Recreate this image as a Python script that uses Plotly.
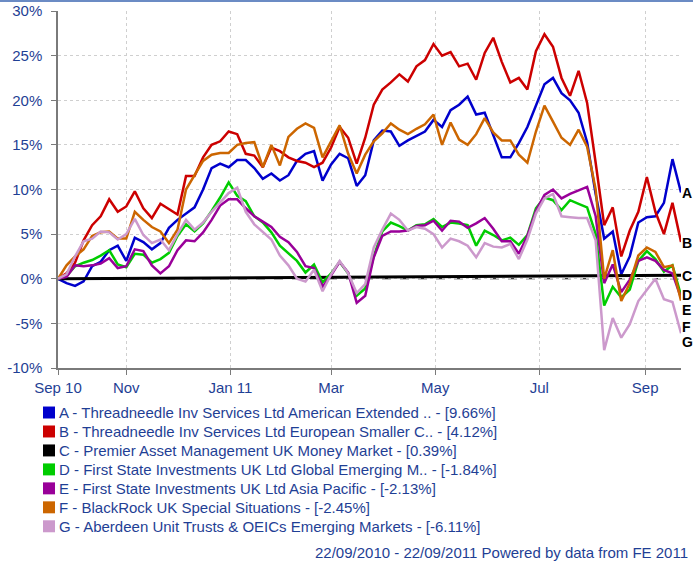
import pandas as pd
import plotly.graph_objects as go

# sampling grid: every 5 days, 22/09/2010 - 22/09/2011
dates = pd.date_range("2010-09-22", periods=74, freq="5D")

fund_a = [0.0, -0.5, -0.8, -0.3, 1.4, 1.9, 3.2, 3.7, 2.0, 4.6,
          4.1, 3.3, 4.0, 5.7, 6.6, 7.3, 8.0, 10.0, 12.4, 12.9,
          12.5, 13.3, 13.3, 12.4, 11.2, 11.8, 11.0, 11.6, 13.2, 14.0,
          14.3, 11.0, 12.8, 14.0, 13.5, 10.4, 11.6, 15.5, 16.6, 16.5,
          14.9, 15.5, 16.0, 16.5, 17.8, 17.0, 18.9, 19.5, 20.4, 18.4,
          18.6, 16.2, 13.6, 13.6, 15.2, 17.0, 19.5, 21.8, 22.5, 20.8,
          20.0, 18.6, 15.3, 9.5, 4.5, 5.3, 0.5, 2.5, 6.3, 6.9,
          7.0, 8.5, 13.4, 9.66]
fund_b = [0.0, 0.6, 1.8, 4.3, 6.0, 7.0, 8.9, 7.5, 8.1, 9.8,
          7.9, 6.8, 8.4, 7.8, 7.2, 11.5, 11.5, 13.6, 15.0, 15.4,
          16.5, 16.2, 14.0, 13.8, 12.5, 14.7, 14.3, 13.6, 13.2, 13.0,
          12.5, 13.0, 14.7, 17.0, 15.8, 12.9, 15.8, 19.5, 21.2, 22.0,
          22.9, 22.1, 23.8, 24.5, 26.3, 25.0, 25.4, 23.8, 24.1, 22.3,
          25.3, 27.0, 24.3, 22.0, 22.5, 21.2, 25.5, 27.4, 26.0, 22.5,
          20.5, 23.3, 19.7, 13.0, 6.0, 8.0, 2.5, 5.4, 7.5, 11.4,
          7.5, 5.0, 8.5, 4.12]
fund_d = [0.0, 0.3, 1.4, 1.8, 2.1, 2.6, 3.2, 1.6, 1.3, 2.8,
          2.7, 1.8, 2.2, 2.9, 4.8, 6.1, 5.3, 6.2, 7.6, 9.1,
          10.8, 9.3, 8.7, 7.0, 6.3, 5.2, 3.7, 2.9, 2.0, 0.7,
          1.6, -0.4, 0.6, 1.9, 0.6, -1.9, -1.1, 2.5, 5.3, 6.3,
          5.9, 5.4, 6.0, 6.1, 6.7, 5.8, 6.3, 6.2, 6.0, 3.7,
          5.4, 4.9, 4.3, 4.6, 3.8, 4.9, 7.9, 9.1, 8.8, 7.7,
          8.8, 8.4, 8.0, 5.0, -3.0, -0.9, -2.1, -1.2, 2.0, 3.1,
          2.2, 0.8, 1.5, -1.84]
fund_e = [0.0, 0.2, 1.5, 1.4, 1.5, 1.7, 2.3, 1.2, 1.4, 3.3,
          3.1, 1.5, 0.6, 1.4, 3.2, 4.3, 4.2, 5.2, 6.6, 8.2,
          8.9, 8.9, 7.9, 7.0, 6.4, 5.8, 4.7, 4.1, 3.0, 1.4,
          1.2, -0.9, 0.4, 1.9, 0.7, -2.7, -1.9, 2.4, 4.8, 5.3,
          5.3, 5.4, 5.9, 6.0, 6.5, 5.4, 6.5, 6.4, 5.7, 6.2,
          6.8, 5.6, 4.2, 4.2, 2.8, 4.8, 7.6, 9.4, 10.0, 9.0,
          9.5, 9.9, 10.3, 7.0, -0.5, 1.6, -1.5, -0.1, 2.0, 2.4,
          2.0, 1.0, 0.6, -2.13]
fund_f = [0.0, 1.5, 2.5, 3.3, 4.8, 5.2, 5.3, 4.5, 4.5, 7.5,
          6.6, 5.8, 5.3, 4.0, 5.5, 10.0, 11.6, 13.2, 13.9, 14.1,
          14.1, 15.0, 15.2, 15.3, 12.5, 15.0, 12.7, 15.9, 16.8, 17.4,
          16.9, 13.6, 15.4, 17.2, 14.0, 11.8, 13.9, 15.4, 16.3, 17.4,
          16.7, 16.2, 16.8, 17.3, 18.4, 15.0, 17.5, 15.6, 15.0, 16.2,
          18.0, 16.4, 15.5, 15.5, 13.9, 13.0, 16.5, 19.4, 17.6, 15.8,
          15.0, 16.7, 14.8, 10.0, 0.0, 3.2, -2.5, -0.5, 2.6, 3.5,
          3.0, 1.3, 1.5, -2.45]
fund_g = [0.0, 0.5, 2.5, 4.2, 4.5, 5.3, 5.2, 4.4, 5.0, 6.7,
          4.9, 4.0, 4.4, 3.2, 5.0, 6.6, 5.5, 6.3, 7.5, 8.6,
          9.6, 10.2, 7.5, 6.1, 5.3, 4.4, 2.6, 1.5, 0.0, -0.3,
          1.0, -1.4, 0.5, 2.0, 0.6, -1.6, -0.6, 3.5, 5.5, 7.3,
          6.6, 5.4, 5.8, 5.6, 5.0, 3.5, 4.5, 4.2, 3.7, 2.4,
          4.0, 3.6, 3.5, 3.9, 2.2, 4.4, 7.3, 9.0, 9.5, 7.0,
          6.9, 6.8, 6.8, 4.3, -8.0, -4.4, -6.6, -5.1, -2.5, -1.2,
          0.0, -2.3, -2.6, -6.11]

# money market fund moves very little, read at a few points
c_dates = ["2010-09-22", "2010-11-15", "2011-01-10", "2011-03-07",
           "2011-05-02", "2011-06-27", "2011-08-22", "2011-09-22"]
fund_c = [0.0, 0.06, 0.14, 0.2, 0.27, 0.33, 0.37, 0.39]

letters = ["A", "B", "C", "D", "E", "F", "G"]
names = [
    "Threadneedle Inv Services Ltd American Extended ..",
    "Threadneedle Inv Services Ltd European Smaller C..",
    "Premier Asset Management UK Money Market",
    "First State Investments UK Ltd Global Emerging M..",
    "First State Investments UK Ltd Asia Pacific",
    "BlackRock UK Special Situations",
    "Aberdeen Unit Trusts & OEICs Emerging Markets",
]
final_returns = [9.66, 4.12, 0.39, -1.84, -2.13, -2.45, -6.11]
colors = ["#0000cc", "#cc0000", "#000000", "#00cc00", "#990099", "#cc6600", "#cc99cc"]

tick_dates = ["2010-09-22", "2010-11-01", "2011-01-01", "2011-03-01",
              "2011-05-01", "2011-07-01", "2011-09-01"]
tick_text = ["Sep 10", "Nov", "Jan 11", "Mar", "May", "Jul", "Sep"]
y_ticks = [-10, -5, 0, 5, 10, 15, 20, 25, 30]

TEXT = "#1f3f95"
FONT = "Liberation Sans, Arial, sans-serif"

series = {
    "A": (dates, fund_a), "B": (dates, fund_b), "C": (c_dates, fund_c),
    "D": (dates, fund_d), "E": (dates, fund_e), "F": (dates, fund_f),
    "G": (dates, fund_g),
}

fig = go.Figure()
for letter, name, color in zip(letters, names, colors):
    x, y = series[letter]
    fig.add_trace(go.Scatter(
        x=x, y=y, mode="lines", name=letter,
        line=dict(color=color, width=3 if letter == "C" else 2.5),
        showlegend=False,
    ))

# dashed zero reference
fig.add_shape(type="line", xref="paper", x0=0, x1=1, yref="y", y0=0, y1=0,
              line=dict(color="black", width=1, dash="dash"), layer="below")

# end-of-line letters (spread out so they do not overlap)
label_y = [9.6, 4.0, 0.35, -1.8, -3.55, -5.35, -7.1]
for letter, ly in zip(letters, label_y):
    fig.add_annotation(x=1, xref="paper", y=ly, yref="y", text=f"<b>{letter}</b>",
                       showarrow=False, xanchor="left", xshift=-1,
                       font=dict(size=14, color="black", family=FONT))

# legend under the chart, built by hand
L, T, W, H = 58, 10.7, 623, 357.7
def px(xp):
    return (xp - L) / W
def py(yp):
    return (T + H - yp) / H

row_y = 413
for letter, name, ret, color in zip(letters, names, final_returns, colors):
    fig.add_shape(type="rect", xref="paper", yref="paper",
                  x0=px(43), x1=px(55), y0=py(row_y + 6), y1=py(row_y - 6),
                  fillcolor=color, line=dict(width=0))
    fig.add_annotation(x=px(57), y=py(row_y), xref="paper", yref="paper",
                       text=f"{letter} - {name} - [{ret:.2f}%]", showarrow=False,
                       xanchor="left", yanchor="middle",
                       font=dict(size=15, color=TEXT, family=FONT))
    row_y += 19

fig.add_annotation(x=px(690), y=py(553), xref="paper", yref="paper",
                   text="22/09/2010 - 22/09/2011 Powered by data from FE 2011",
                   showarrow=False, xanchor="right", yanchor="middle",
                   font=dict(size=15, color=TEXT, family=FONT))

# thin blue rule across the top of the page
fig.add_shape(type="line", xref="paper", yref="paper", x0=px(0), x1=px(693),
              y0=py(0.7), y1=py(0.7), line=dict(color="#3a64b0", width=1.5))

fig.update_xaxes(
    type="date", range=["2010-09-22", "2011-09-22"],
    tickvals=tick_dates, ticktext=tick_text,
    showgrid=True, gridcolor="#cfcfcf", griddash="dot", gridwidth=1,
    showline=True, linecolor="#7a7a7a", linewidth=1.5,
    ticks="outside", ticklen=5, tickcolor="#7a7a7a",
    tickfont=dict(size=15, color=TEXT, family=FONT),
    zeroline=False, automargin=False,
)
fig.update_yaxes(
    range=[-10, 30], tickvals=y_ticks, ticktext=[f"{v}%" for v in y_ticks],
    showgrid=True, gridcolor="#cfcfcf", griddash="dot", gridwidth=1,
    showline=True, linecolor="#7a7a7a", linewidth=1.5,
    ticks="outside", ticklen=5, tickcolor="#7a7a7a", ticklabelstandoff=6,
    tickfont=dict(size=15, color=TEXT, family=FONT),
    zeroline=False, automargin=False,
)
fig.update_layout(
    width=693, height=565,
    margin=dict(l=58, r=12, t=11, b=197),
    paper_bgcolor="white", plot_bgcolor="white",
    showlegend=False,
    font=dict(family=FONT, color=TEXT),
)

fig.write_html("out.html", config={"displayModeBar": False},
               post_script="document.body.style.margin='0';")
